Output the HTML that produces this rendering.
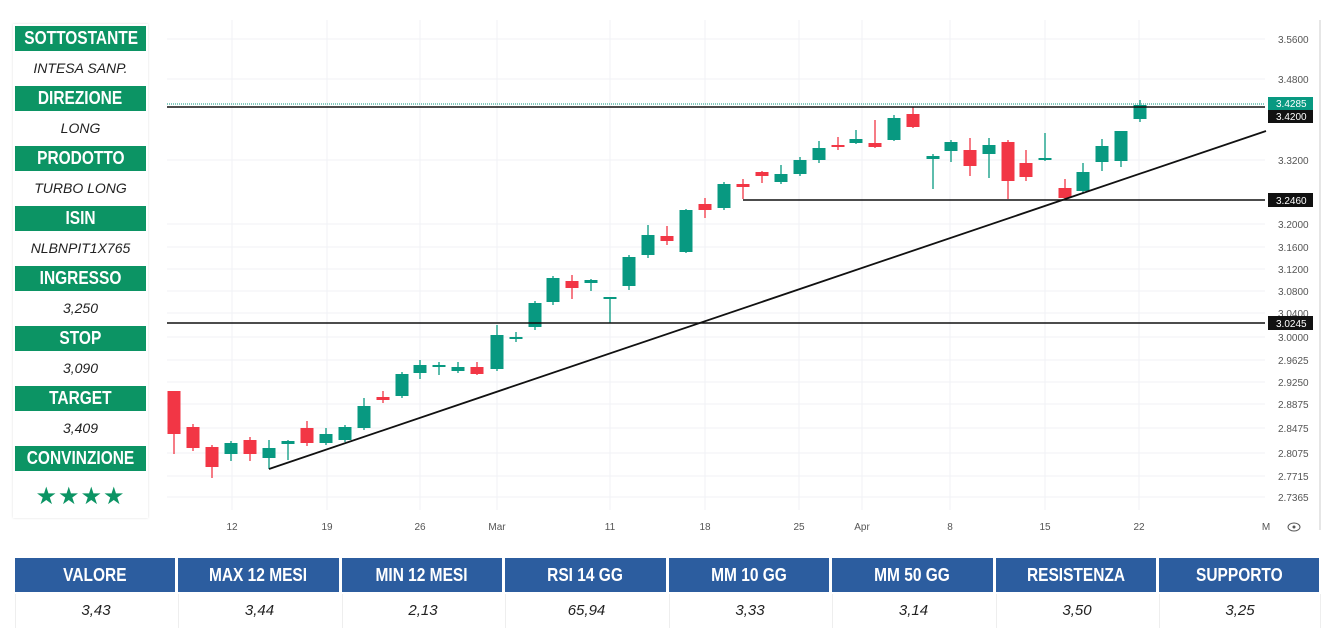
<!DOCTYPE html>
<html><head><meta charset="utf-8"><style>
body{margin:0;width:1329px;height:630px;background:#fff;position:relative;overflow:hidden;font-family:"Liberation Sans",sans-serif}
.panel{position:absolute;left:13px;top:24px;width:135px;height:494px;background:#fff;box-shadow:0 0 2px #ddd}
.h{position:absolute;left:2px;width:131px;height:25px;background:#0c9464;color:#fff;font-weight:bold;font-size:18px;text-align:center;line-height:25px}
.h span,.tb span{display:inline-block;transform:scaleX(0.86)}
.v{position:absolute;left:2px;width:131px;height:35px;color:#222;font-style:italic;font-size:14px;text-align:center;line-height:35px}
.tb{position:absolute;top:558px;height:34px;background:#2c5d9f;color:#fff;font-weight:bold;font-size:18px;text-align:center;line-height:34px}
.tv{position:absolute;top:594px;height:34px;color:#222;font-style:italic;font-size:15px;text-align:center;line-height:34px;border-left:1px solid #eee}
</style></head><body>
<div class="panel">
<div class="h" style="top:2px"><span>SOTTOSTANTE</span></div><div class="v" style="top:27px">INTESA SANP.</div>
<div class="h" style="top:62px"><span>DIREZIONE</span></div><div class="v" style="top:87px">LONG</div>
<div class="h" style="top:122px"><span>PRODOTTO</span></div><div class="v" style="top:147px">TURBO LONG</div>
<div class="h" style="top:182px"><span>ISIN</span></div><div class="v" style="top:207px">NLBNPIT1X765</div>
<div class="h" style="top:242px"><span>INGRESSO</span></div><div class="v" style="top:267px">3,250</div>
<div class="h" style="top:302px"><span>STOP</span></div><div class="v" style="top:327px">3,090</div>
<div class="h" style="top:362px"><span>TARGET</span></div><div class="v" style="top:387px">3,409</div>
<div class="h" style="top:422px"><span>CONVINZIONE</span></div><div class="v" style="top:455px;color:#0c9464;font-style:normal;font-size:24px;letter-spacing:1px">★★★★</div>
</div>
<svg width="1329" height="630" style="position:absolute;left:0;top:0" id="s">
<g stroke="#f0f2f5" stroke-width="1">
<line x1="232" y1="20" x2="232" y2="510"/><line x1="327" y1="20" x2="327" y2="510"/><line x1="420" y1="20" x2="420" y2="510"/><line x1="497" y1="20" x2="497" y2="510"/><line x1="610" y1="20" x2="610" y2="510"/><line x1="705" y1="20" x2="705" y2="510"/><line x1="799" y1="20" x2="799" y2="510"/><line x1="862" y1="20" x2="862" y2="510"/><line x1="950" y1="20" x2="950" y2="510"/><line x1="1045" y1="20" x2="1045" y2="510"/><line x1="1139" y1="20" x2="1139" y2="510"/>
<line x1="167" y1="39" x2="1265" y2="39"/><line x1="167" y1="79" x2="1265" y2="79"/><line x1="167" y1="160" x2="1265" y2="160"/><line x1="167" y1="224" x2="1265" y2="224"/><line x1="167" y1="247" x2="1265" y2="247"/><line x1="167" y1="269" x2="1265" y2="269"/><line x1="167" y1="291" x2="1265" y2="291"/><line x1="167" y1="313" x2="1265" y2="313"/><line x1="167" y1="337" x2="1265" y2="337"/><line x1="167" y1="360" x2="1265" y2="360"/><line x1="167" y1="382" x2="1265" y2="382"/><line x1="167" y1="404" x2="1265" y2="404"/><line x1="167" y1="428" x2="1265" y2="428"/><line x1="167" y1="453" x2="1265" y2="453"/><line x1="167" y1="476" x2="1265" y2="476"/><line x1="167" y1="497" x2="1265" y2="497"/>
</g>
<line x1="1320" y1="20" x2="1320" y2="530" stroke="#e6e6e6" stroke-width="2"/>
<g id="c"></g>
<line x1="167" y1="104" x2="1265" y2="104" stroke="#089981" stroke-width="1" stroke-dasharray="1,1"/>
<line x1="167" y1="107" x2="1265" y2="107" stroke="#111" stroke-width="1.6"/>
<line x1="743" y1="200" x2="1265" y2="200" stroke="#111" stroke-width="1.6"/>
<line x1="167" y1="323" x2="1265" y2="323" stroke="#111" stroke-width="1.6"/>
<line x1="269" y1="469" x2="1266" y2="131" stroke="#111" stroke-width="1.8"/>
<g font-size="10" fill="#555" font-family="Liberation Sans">
<text x="1278" y="43">3.5600</text><text x="1278" y="83">3.4800</text><text x="1278" y="164">3.3200</text><text x="1278" y="228">3.2000</text><text x="1278" y="251">3.1600</text><text x="1278" y="273">3.1200</text><text x="1278" y="295">3.0800</text><text x="1278" y="317">3.0400</text><text x="1278" y="341">3.0000</text><text x="1278" y="364">2.9625</text><text x="1278" y="386">2.9250</text><text x="1278" y="408">2.8875</text><text x="1278" y="432">2.8475</text><text x="1278" y="457">2.8075</text><text x="1278" y="480">2.7715</text><text x="1278" y="501">2.7365</text>
</g>
<rect x="1268" y="97" width="45" height="13" fill="#089981"/><text x="1276" y="107" font-size="10" fill="#fff">3.4285</text>
<rect x="1268" y="110" width="45" height="13" fill="#111"/><text x="1276" y="120" font-size="10" fill="#fff">3.4200</text>
<rect x="1268" y="193" width="45" height="14" fill="#111"/><text x="1276" y="204" font-size="10" fill="#fff">3.2460</text>
<rect x="1268" y="316" width="45" height="14" fill="#111"/><text x="1276" y="327" font-size="10" fill="#fff">3.0245</text>
<g font-size="10" fill="#555" text-anchor="middle">
<text x="232" y="530">12</text><text x="327" y="530">19</text><text x="420" y="530">26</text><text x="497" y="530">Mar</text><text x="610" y="530">11</text><text x="705" y="530">18</text><text x="799" y="530">25</text><text x="862" y="530">Apr</text><text x="950" y="530">8</text><text x="1045" y="530">15</text><text x="1139" y="530">22</text><text x="1266" y="530">M</text>
</g>
<ellipse cx="1294" cy="527" rx="6" ry="4" fill="none" stroke="#555"/><circle cx="1294" cy="527" r="1.5" fill="#555"/>
</svg>
<div class="tb" style="left:15px;width:160px"><span>VALORE</span></div>
<div class="tb" style="left:178px;width:161px"><span>MAX 12 MESI</span></div>
<div class="tb" style="left:342px;width:160px"><span>MIN 12 MESI</span></div>
<div class="tb" style="left:505px;width:161px"><span>RSI 14 GG</span></div>
<div class="tb" style="left:669px;width:160px"><span>MM 10 GG</span></div>
<div class="tb" style="left:832px;width:161px"><span>MM 50 GG</span></div>
<div class="tb" style="left:996px;width:160px"><span>RESISTENZA</span></div>
<div class="tb" style="left:1159px;width:160px"><span>SUPPORTO</span></div>
<div class="tv" style="left:15px;width:160px">3,43</div>
<div class="tv" style="left:178px;width:161px">3,44</div>
<div class="tv" style="left:342px;width:160px">2,13</div>
<div class="tv" style="left:505px;width:161px">65,94</div>
<div class="tv" style="left:669px;width:160px">3,33</div>
<div class="tv" style="left:832px;width:161px">3,14</div>
<div class="tv" style="left:996px;width:160px">3,50</div>
<div class="tv" style="left:1159px;width:160px;border-right:1px solid #eee">3,25</div>
<script>
var d=[[174,391,434,391,454,0],[193,427,448,424,451,0],[212,447,467,445,478,0],[231,443,454,441,461,1],[250,440,454,437,461,0],[269,448,458,440,469,1],[288,441,444,440,460,1],[307,428,443,421,446,0],[326,434,443,428,445,1],[345,427,440,425,442,1],[364,406,428,398,430,1],[383,397,400,391,403,0],[402,374,396,372,398,1],[420,365,373,360,379,1],[439,365,366,362,375,1],[458,367,371,362,373,1],[477,367,374,362,375,0],[497,335,369,325,371,1],[516,337,338,332,342,1],[535,303,327,301,330,1],[553,278,302,276,305,1],[572,281,288,275,299,0],[591,280,283,279,291,1],[610,297,298,297,323,1],[629,257,286,255,290,1],[648,235,255,225,258,1],[667,236,241,226,245,0],[686,210,252,209,253,1],[705,204,210,198,218,0],[724,184,208,182,210,1],[743,184,187,179,199,0],[762,172,176,171,183,0],[781,174,182,165,184,1],[800,160,174,157,176,1],[819,148,160,141,163,1],[838,145,147,137,150,0],[856,139,143,130,144,1],[875,143,147,120,148,0],[894,118,140,115,141,1],[913,114,127,107,128,0],[933,156,159,154,189,1],[951,142,151,140,162,1],[970,150,166,138,176,0],[989,145,154,138,178,1],[1008,142,181,140,199,0],[1026,163,177,150,181,0],[1045,158,160,133,161,1],[1065,188,198,179,200,0],[1083,172,191,163,193,1],[1102,146,162,139,171,1],[1121,131,161,131,167,1],[1140,105,119,100,122,1]];
var g=document.getElementById('c'),s='';
d.forEach(function(c){var col=c[5]?'#089981':'#f23645';var h=Math.max(c[2]-c[1],2);
s+='<line x1="'+c[0]+'" y1="'+c[3]+'" x2="'+c[0]+'" y2="'+c[4]+'" stroke="'+col+'" stroke-width="1.3"/>';
s+='<rect x="'+(c[0]-6.5)+'" y="'+c[1]+'" width="13" height="'+h+'" fill="'+col+'"/>';});
g.innerHTML=s;
</script>
</body></html>
